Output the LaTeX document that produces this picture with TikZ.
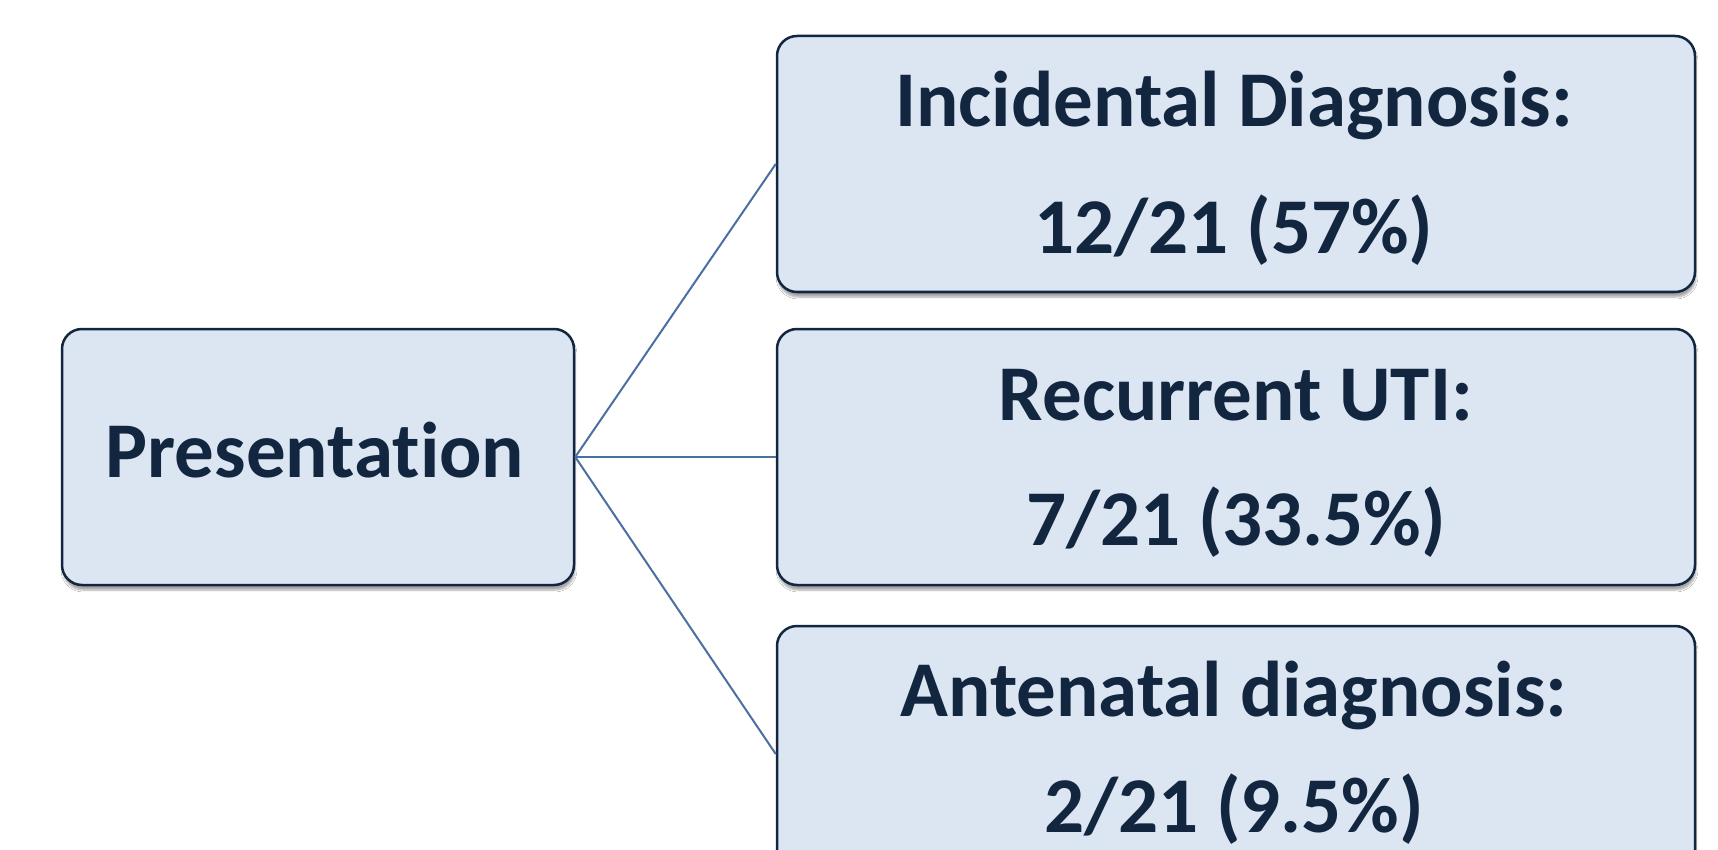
\documentclass[tikz,border=0pt]{standalone}
\usepackage{fontspec}
\setmainfont{Carlito}[RawFeature={-liga}]
\usetikzlibrary{shadows.blur}
\definecolor{boxfill}{RGB}{220,230,242}
\definecolor{boxline}{RGB}{18,38,64}
\definecolor{txt}{RGB}{18,38,64}
\definecolor{conn}{RGB}{74,112,162}
\tikzset{
  box/.style={rectangle, rounded corners=20pt, draw=boxline, line width=2.5pt,
    fill=boxfill, inner sep=0pt, minimum height=256pt,
    blur shadow={shadow xshift=1pt, shadow yshift=-5pt, shadow blur steps=6, shadow opacity=35}},
  lbl/.style={text=txt, align=center, inner sep=0pt,
    font=\bfseries\fontsize{79}{127}\selectfont},
  conline/.style={draw=conn, line width=2pt}
}
\begin{document}
\begin{tikzpicture}[x=1pt,y=-1pt]
\useasboundingbox (0,0) rectangle (1718,850);
\clip (0,0) rectangle (1718,850);
\fill[white] (0,0) rectangle (1718,850);
\node[box, minimum width=512pt] (pres) at (318,457) {};
\node[box, minimum width=918pt] (inc) at (1236,164) {};
\node[box, minimum width=918pt] (uti) at (1236,457) {};
\node[box, minimum width=918pt] (ant) at (1236,754) {};
\node[lbl, anchor=base] (presT) at (315,477) {Presentation};
\node[lbl, anchor=base] (incT) at (1234,254) {Incidental Diagnosis:\\12/21 (57\%)};
\node[lbl, anchor=base] (utiT) at (1236,545) {Recurrent UTI:\\[-2pt]7/21 (33.5\%)};
\node[lbl, anchor=base] (antT) at (1234,832) {Antenatal diagnosis:\\[-11pt]2/21 (9.5\%)};
\draw[conline] (pres.east) -- (inc.west);
\draw[conline] (pres.east) -- (uti.west);
\draw[conline] (pres.east) -- (ant.west);
\end{tikzpicture}
\end{document}
